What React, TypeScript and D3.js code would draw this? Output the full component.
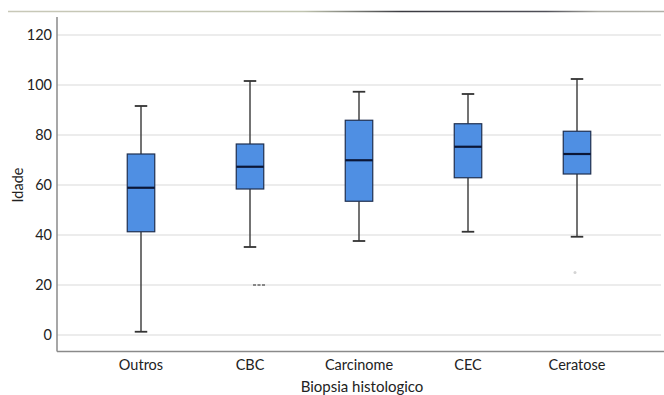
import React from "react";
import * as d3 from "d3";

const categories = ["Outros", "CBC", "Carcinome", "CEC", "Ceratose"];
const whiskerLow = [1.3, 35.2, 37.6, 41.3, 39.3];
const q1 = [41.3, 58.4, 53.5, 62.9, 64.4];
const median = [58.9, 67.3, 69.9, 75.3, 72.4];
const q3 = [72.4, 76.4, 85.9, 84.5, 81.5];
const whiskerHigh = [91.6, 101.6, 97.3, 96.4, 102.4];
const outlierCategory = ["CBC", "Ceratose"];
const outlierValue = [20, 25];
const yTicks = [0, 20, 40, 60, 80, 100, 120];

const W = 664;
const H = 395;
const FONT = "Lato, 'Liberation Sans', Arial, sans-serif";
const FS = 14.5;

export default function App() {
  const x = d3.scaleBand<string>().domain(categories).range([86.5, 631.5]).paddingInner(0).paddingOuter(0);
  const y = d3.scaleLinear().domain([0, 120]).range([335, 35]);
  const axisX = 57;
  const axisY = 351.5;
  const boxW = 27.5;
  const capW = 12.5;

  return (
    <svg
      width={W}
      height={H}
      style={{ position: "absolute", left: 0, top: 0, background: "#fff" }}
      fontFamily={FONT}
    >
      <defs>
        <linearGradient id="topline" gradientUnits="userSpaceOnUse" x1="8" x2="664" y1="0" y2="0">
          <stop offset="0" stopColor="#c8c8b8" />
          <stop offset="0.45" stopColor="#c0c4b0" />
          <stop offset="0.6" stopColor="#3a3a40" />
          <stop offset="0.82" stopColor="#505058" />
          <stop offset="0.9" stopColor="#a8a8a0" />
          <stop offset="1" stopColor="#b0b0a8" />
        </linearGradient>
      </defs>
      <line x1={8} x2={664} y1={11.5} y2={11.5} stroke="url(#topline)" strokeWidth={1.5} />

      {yTicks.map((t) => (
        <g key={t}>
          <line x1={axisX} x2={661} y1={y(t)} y2={y(t)} stroke="#d9d9d9" strokeWidth={1.2} />
          <text x={52} y={y(t)} dy="0.35em" textAnchor="end" fontSize={FS} fill="#222">
            {t}
          </text>
        </g>
      ))}

      <line x1={axisX} x2={axisX} y1={17} y2={axisY} stroke="#8a8a8a" strokeWidth={1.5} />
      <line x1={axisX} x2={664} y1={axisY} y2={axisY} stroke="#8a8a8a" strokeWidth={1.5} />

      {categories.map((c, i) => {
        const cx = (x(c) as number) + x.bandwidth() / 2;
        return (
          <g key={c}>
            <line x1={cx} x2={cx} y1={y(whiskerHigh[i])} y2={y(q3[i])} stroke="#444" strokeWidth={1.5} />
            <line x1={cx} x2={cx} y1={y(q1[i])} y2={y(whiskerLow[i])} stroke="#444" strokeWidth={1.5} />
            <line x1={cx - capW / 2} x2={cx + capW / 2} y1={y(whiskerHigh[i])} y2={y(whiskerHigh[i])} stroke="#333" strokeWidth={1.8} />
            <line x1={cx - capW / 2} x2={cx + capW / 2} y1={y(whiskerLow[i])} y2={y(whiskerLow[i])} stroke="#333" strokeWidth={1.8} />
            <rect
              x={cx - boxW / 2}
              y={y(q3[i])}
              width={boxW}
              height={y(q1[i]) - y(q3[i])}
              fill="#4f8fe3"
              stroke="#1f2f4f"
              strokeWidth={1.2}
            />
            <line x1={cx - boxW / 2} x2={cx + boxW / 2} y1={y(median[i])} y2={y(median[i])} stroke="#0b1636" strokeWidth={2.2} />
            <text x={cx} y={365} dy="0.35em" textAnchor="middle" fontSize={FS} fill="#222">
              {c}
            </text>
          </g>
        );
      })}

      {outlierCategory.map((c, i) => {
        const cx = (x(c) as number) + x.bandwidth() / 2;
        return i === 0 ? (
          <line key={c} x1={cx + 3} x2={cx + 16} y1={y(outlierValue[i])} y2={y(outlierValue[i])} stroke="#666" strokeWidth={1.5} strokeDasharray="3 1.5" />
        ) : (
          <circle key={c} cx={cx - 2} cy={y(outlierValue[i])} r={1.5} fill="#d4d4d4" />
        );
      })}

      <text x={362} y={387} dy="0.35em" textAnchor="middle" fontSize={15} fill="#222">
        Biopsia histologico
      </text>
      <text transform={`translate(18,185) rotate(-90)`} textAnchor="middle" dy="0.35em" fontSize={FS} fill="#222">
        Idade
      </text>
    </svg>
  );
}
